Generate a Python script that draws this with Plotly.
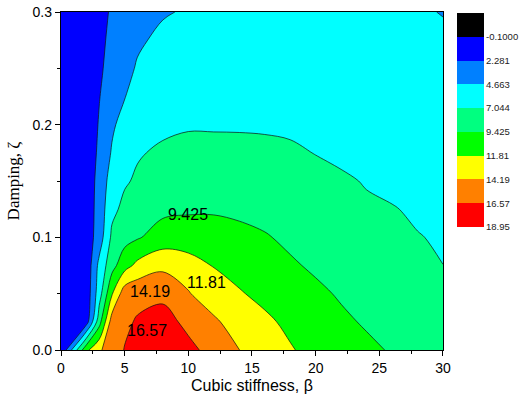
import plotly.graph_objects as go

# ---- data ----
beta = [0, 2, 3, 4, 5, 6, 8, 10, 12, 14, 16, 18, 20, 22, 24, 26, 28, 30]
zeta = [0.0, 0.025, 0.05, 0.075, 0.1, 0.125, 0.15, 0.175, 0.2, 0.225, 0.25, 0.275, 0.3]

amp_y000 = [0.0, 11.3, 13.8, 15.6, 16.65, 17.3, 17.8, 17.0, 16.0, 14.2, 13.1, 12.0, 11.05, 10.45, 9.85, 9.25, 8.7, 8.2]
amp_y025 = [0.1, 1.2, 8.5, 15.3, 16.2, 16.75, 17.2, 16.15, 14.6, 13.0, 12.25, 11.3, 10.5, 9.8, 9.2, 8.6, 8.15, 7.75]
amp_y050 = [0.1, 0.7, 6.0, 11.6, 15.5, 16.0, 16.2, 14.35, 12.8, 12.0, 11.2, 10.55, 9.85, 9.2, 8.6, 8.1, 7.7, 7.35]
amp_y075 = [0.1, 0.6, 5.3, 8.6, 10.9, 12.4, 13.6, 13.0, 11.7, 11.0, 10.3, 9.7, 9.1, 8.6, 8.1, 7.7, 7.35, 7.05]
amp_y100 = [0.1, 0.9, 3.41, 7.5, 8.6, 9.2, 10.5, 10.3, 10.3, 10.0, 9.6, 9.0, 8.5, 8.1, 7.7, 7.4, 7.1, 6.9]
amp_y125 = [0.1, 0.9, 3.2, 6.5, 7.6, 8.1, 8.9, 9.2, 9.2, 9.0, 8.7, 8.3, 7.9, 7.55, 7.25, 7.12, 6.85, 6.6]
amp_y150 = [0.05, 0.95, 3.0, 5.77, 6.8, 7.34, 8.0, 8.3, 8.35, 8.3, 8.1, 7.85, 7.55, 7.25, 6.95, 6.7, 6.4, 6.15]
amp_y175 = [0.05, 0.9, 2.67, 4.88, 6.0, 6.85, 7.4, 7.55, 7.6, 7.6, 7.5, 7.3, 7.0, 6.75, 6.5, 6.25, 6.0, 5.8]
amp_y200 = [0.05, 0.85, 2.44, 4.3, 5.5, 6.1, 6.59, 6.88, 6.85, 6.83, 6.8, 6.75, 6.6, 6.45, 6.25, 6.05, 5.85, 5.65]
amp_y225 = [0.0, 0.75, 2.2, 3.4, 4.6, 5.2, 5.9, 6.2, 6.25, 6.25, 6.2, 6.15, 6.05, 5.95, 5.8, 5.65, 5.5, 5.35]
amp_y250 = [0.0, 0.7, 2.0, 2.9, 3.9, 4.9, 5.5, 5.8, 5.85, 5.85, 5.82, 5.8, 5.7, 5.6, 5.5, 5.35, 5.2, 5.05]
amp_y275 = [0.0, 0.65, 1.85, 2.7, 3.5, 4.3, 5.2, 5.45, 5.55, 5.55, 5.55, 5.5, 5.42, 5.3, 5.2, 5.05, 4.9, 4.72]
amp_y300 = [0.0, 0.6, 1.7, 2.5, 3.2, 3.8, 4.45, 4.9, 5.1, 5.2, 5.2, 5.15, 5.1, 5.0, 4.9, 4.8, 4.7, 4.65]

levels = [-0.1, 2.281, 4.663, 7.044, 9.425, 11.81, 14.19, 16.57, 18.95]
level_text = ["-0.1000", "2.281", "4.663", "7.044", "9.425", "11.81", "14.19", "16.57", "18.95"]
band_colors = ["#000000", "#0000FF", "#0080FF", "#00FFFF", "#00FF80",
               "#00FF00", "#FFFF00", "#FF8000", "#FF0000", "#800000"]

label_text = ["9.425", "11.81", "14.19", "16.57"]
label_beta = [10.0, 11.4, 7.0, 6.75]
label_zeta = [0.1207, 0.0600, 0.0520, 0.0173]

# ---- build ----
amp = [amp_y000, amp_y025, amp_y050, amp_y075, amp_y100, amp_y125, amp_y150,
       amp_y175, amp_y200, amp_y225, amp_y250, amp_y275, amp_y300]

start = levels[0]
end = levels[-1]
nlev = len(levels)
step = (end - start) / (nlev - 1)
nb = len(band_colors)
cscale = []
for k, c in enumerate(band_colors):
    lo = max(0.0, (k - 0.5) / (nb - 1))
    hi = min(1.0, (k + 0.5) / (nb - 1))
    cscale.append([lo, c])
    cscale.append([hi, c])

zlo = start - step / 2
zhi = end + step / 2

fig = go.Figure()
fig.add_trace(go.Contour(
    x=beta, y=zeta, z=amp,
    autocontour=False,
    contours=dict(start=start, end=end + step * 1e-4, size=step,
                  coloring="fill", showlines=True),
    line=dict(color="#111111", width=0.7),
    colorscale=cscale, zmin=zlo, zmax=zhi, zauto=False,
    showscale=False, hoverinfo="skip",
))

# colour key drawn as a small heatmap on its own axes
edges = [start - step] + levels
mids = [(edges[i] + edges[i + 1]) / 2 for i in range(len(edges) - 1)]
fig.add_trace(go.Heatmap(
    x=[0, 1], y=edges, z=[[m] for m in mids],
    colorscale=cscale, zmin=zlo, zmax=zhi, zauto=False,
    showscale=False, hoverinfo="skip", xaxis="x2", yaxis="y2",
))

for t, bx, zy in zip(label_text, label_beta, label_zeta):
    fig.add_annotation(x=bx, y=zy, text=t, showarrow=False,
                       font=dict(family="Liberation Sans", size=16, color="#000"),
                       xref="x", yref="y")

fig.update_layout(
    width=523, height=396,
    margin=dict(l=61, r=10, t=12, b=46),
    paper_bgcolor="white", plot_bgcolor="white",
    showlegend=False,
    font=dict(family="Liberation Sans", size=14, color="#000"),
    xaxis=dict(domain=[0, 0.8451], range=[0, 30], tickvals=[0, 5, 10, 15, 20, 25, 30],
               ticks="outside", ticklen=5, tickwidth=1, tickcolor="#000",
               minor=dict(dtick=2.5, ticks="outside", ticklen=3, tickcolor="#000"),
               showline=True, linecolor="#000", linewidth=1.3, mirror=True,
               showgrid=False, zeroline=False, automargin=False,
               ticklabeloverflow="allow",
               title=dict(text="Cubic stiffness, β", standoff=4,
                          font=dict(family="Liberation Sans", size=16))),
    yaxis=dict(domain=[0, 1], range=[0, 0.3], tickvals=[0, 0.1, 0.2, 0.3], tickformat=".1f",
               ticks="outside", ticklen=5, tickwidth=1, tickcolor="#000",
               minor=dict(dtick=0.05, ticks="outside", ticklen=3, tickcolor="#000"),
               showline=True, linecolor="#000", linewidth=1.3, mirror=True,
               showgrid=False, zeroline=False, automargin=False,
               ticklabeloverflow="allow",
               title=dict(text="Damping, ζ", standoff=8,
                          font=dict(family="Liberation Serif", size=17))),
    xaxis2=dict(domain=[0.8761, 0.9358], anchor="y2", range=[0, 1], visible=False),
    yaxis2=dict(domain=[0.3639, 0.997], anchor="x2", range=[end, start - step],
                tickvals=levels, ticktext=level_text, side="right",
                ticks="", showline=False, showgrid=False, zeroline=False,
                automargin=False, ticklabeloverflow="allow", ticklabelstandoff=1,
                tickfont=dict(family="Liberation Sans", size=9.5, color="#222")),
)

# remove the default page margin so the figure sits at the window's top-left corner
fig.write_html("out.html",
               config={"displayModeBar": False},
               post_script="document.body.style.margin='0px';document.body.style.padding='0px';")
